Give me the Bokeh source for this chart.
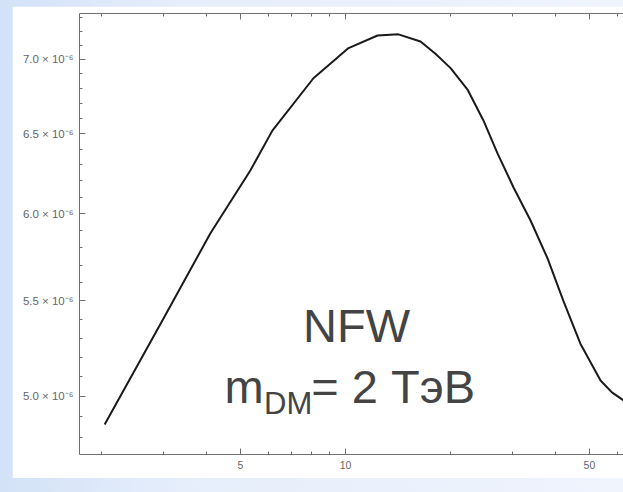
from bokeh.plotting import figure
from bokeh.models import (FixedTicker, CustomJSTickFormatter, LogAxis, Label, Range1d)
from bokeh.layouts import column
from bokeh.embed import file_html
from bokeh.resources import INLINE

# Data
energy = [2.04, 3.0, 4.1, 5.34, 6.17, 8.09, 10.2, 12.35, 14.18, 16.4, 18.1, 20.0,
          22.4, 24.8, 27.3, 30.3, 33.9, 37.9, 42.1, 47.1, 53.8, 58.0, 62.6]
flux_e6 = [4.862, 5.40, 5.885, 6.267, 6.52, 6.87, 7.08, 7.17, 7.178, 7.127, 7.04, 6.94,
           6.79, 6.59, 6.37, 6.16, 5.96, 5.74, 5.50, 5.27, 5.08, 5.02, 4.98]
flux = [v * 1e-6 for v in flux_e6]

x_major = [5, 10, 50]
x_minor = [2, 3, 4, 6, 7, 8, 9, 20, 30, 40, 60]
y_major = [5.0e-6, 5.5e-6, 6.0e-6, 6.5e-6, 7.0e-6]
y_minor = [v * 1e-7 for v in range(47, 74)]

title_text = "NFW"
mass_m = "m"
mass_sub = "DM"
mass_rest = "= 2 ТэВ"

p = figure(width=611, height=472, x_axis_type="log", y_axis_type="log",
           x_range=Range1d(1.728, 62.6), y_range=Range1d(4.718e-6, 7.329e-6),
           output_backend="svg", toolbar_location=None,
           min_border_left=67, min_border_right=0, min_border_top=7,
           min_border_bottom=24)
p.margin = (6, 0, 14, 12)
p.background_fill_color = "white"
p.border_fill_color = "white"
p.outline_line_color = None
p.xgrid.visible = False
p.ygrid.visible = False

axis_color = "#707070"
label_color = "#666666"

xt = FixedTicker(ticks=x_major, minor_ticks=x_minor)
yt = FixedTicker(ticks=y_major, minor_ticks=y_minor)

xa = p.xaxis[0]
xa.ticker = xt
xa.formatter = CustomJSTickFormatter(code="return String(Math.round(tick));")
ya = p.yaxis[0]
ya.ticker = yt
ya.formatter = CustomJSTickFormatter(code="return (tick*1e6).toFixed(1) + ' \u00d7 10\u207b\u2076';")

for ax in (xa, ya):
    ax.axis_line_color = axis_color
    ax.major_tick_line_color = axis_color
    ax.minor_tick_line_color = axis_color
    ax.major_tick_in = 6
    ax.major_tick_out = 0
    ax.minor_tick_in = 3
    ax.minor_tick_out = 0
    ax.major_label_text_color = label_color
    ax.major_label_text_font = "Liberation Sans"

xa.major_label_text_font_size = "10.5px"
xa.major_label_standoff = 6
ya.major_label_text_font_size = "11.5px"
ya.major_label_standoff = 6

top = LogAxis(ticker=FixedTicker(ticks=x_major, minor_ticks=x_minor),
              formatter=CustomJSTickFormatter(code="return '';"),
              major_label_text_font_size="1px", major_label_standoff=0,
              axis_line_color=axis_color, major_tick_line_color=axis_color,
              minor_tick_line_color=axis_color, major_tick_in=6, major_tick_out=0,
              minor_tick_in=3, minor_tick_out=0)
p.add_layout(top, "above")

p.line(energy, flux, line_color="#1a1a1a", line_width=2)

txt_color = "#444444"
p.add_layout(Label(x=10.75, y=5.367e-6, text=title_text, text_align="center",
                   text_baseline="alphabetic", text_font="Liberation Sans",
                   text_font_size="47px", text_color=txt_color))
p.add_layout(Label(x=4.50, y=5.050e-6, text=mass_m, text_align="left",
                   text_baseline="alphabetic", text_font="Liberation Sans",
                   text_font_size="47px", text_color=txt_color))
p.add_layout(Label(x=5.84, y=4.966e-6, text=mass_sub, text_align="left",
                   text_baseline="alphabetic", text_font="Liberation Sans",
                   text_font_size="31px", text_color=txt_color))
p.add_layout(Label(x=7.98, y=5.050e-6, text=mass_rest, text_align="left",
                   text_baseline="alphabetic", text_font="Liberation Sans",
                   text_font_size="47px", text_color=txt_color))

root = column(p, width=623, height=492,
              styles={"background": "linear-gradient(90deg, #d3e2f7 0%, #e6eefb 30%, #eff4fd 100%)"})

open("out.html", "w").write(file_html(root, INLINE))
